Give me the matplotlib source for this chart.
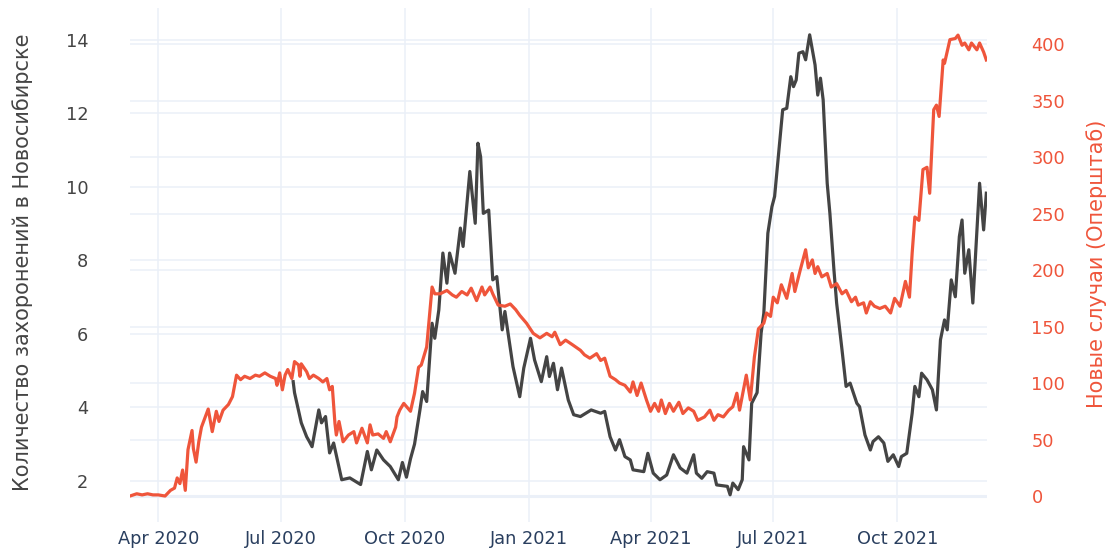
import numpy as np
import pandas as pd
import matplotlib
matplotlib.use("Agg")
import matplotlib.pyplot as plt
import matplotlib.dates as mdates
from matplotlib.transforms import blended_transform_factory

plt.rcParams['font.family'] = ['DejaVu Sans']

BASE = pd.Timestamp('2020-04-01')

# Burials (left axis): days since 2020-04-01 and values
burial_day = [
    100, 101, 106, 110, 112, 114, 119, 121, 124, 127,
    130, 136, 142, 150, 155, 158, 162, 167, 172, 178,
    181, 184, 187, 190, 194, 196, 199, 203, 205, 208,
    211, 214, 216, 220, 224, 226, 231, 235, 237, 239,
    241, 245, 248, 251, 255, 257, 263, 268, 271, 276,
    279, 284, 288, 290, 293, 296, 299, 304, 308, 313,
    321, 328, 331, 335, 339, 342, 346, 350, 352, 360,
    363, 367, 372, 377, 382, 387, 392, 397, 399, 403,
    407, 412, 414, 422, 424, 426, 430, 433, 434, 438,
    440, 444, 447, 449, 452, 455, 457, 463, 466, 469,
    471, 473, 475, 478, 480, 483, 487, 489, 491, 493,
    496, 498, 501, 503, 507, 510, 513, 518, 520, 524,
    528, 530, 534, 538, 541, 545, 549, 551, 555, 559,
    561, 564, 566, 570, 574, 577, 580, 583, 585, 588,
    591, 594, 596, 598, 601, 604, 609, 612, 614,
]
burial_value = [
    4.7, 4.4, 3.58, 3.2, 3.07, 2.93, 3.93, 3.58, 3.75, 2.76,
    3.03, 2.03, 2.08, 1.9, 2.8, 2.3, 2.84, 2.57, 2.39, 2.03,
    2.5, 2.1, 2.6, 3.0, 3.93, 4.43, 4.16, 6.29, 5.88, 6.65,
    8.2, 7.38, 8.2, 7.65, 8.88, 8.38, 10.42, 9.01, 11.19, 10.82,
    9.28, 9.37, 7.47, 7.56, 6.11, 6.61, 5.11, 4.29, 5.07, 5.88,
    5.29, 4.7, 5.38, 4.84, 5.2, 4.48, 5.07, 4.2, 3.8, 3.75,
    3.93, 3.84, 3.89, 3.2, 2.84, 3.12, 2.66, 2.57, 2.3, 2.25,
    2.75, 2.21, 2.03, 2.16, 2.71, 2.35, 2.21, 2.71, 2.21, 2.07,
    2.25, 2.21, 1.89, 1.85, 1.62, 1.94, 1.76, 2.03, 2.93, 2.57,
    4.11, 4.4, 6.02, 6.56, 8.74, 9.46, 9.74, 12.1, 12.14, 13.0,
    12.73, 12.91, 13.64, 13.68, 13.46, 14.14, 13.32, 12.5, 12.96, 12.37,
    10.1, 9.28, 7.74, 6.84, 5.56, 4.57, 4.66, 4.11, 4.02, 3.25,
    2.84, 3.07, 3.2, 3.03, 2.53, 2.71, 2.39, 2.66, 2.75, 3.84,
    4.57, 4.29, 4.93, 4.75, 4.48, 3.93, 5.84, 6.38, 6.11, 7.47,
    7.01, 8.65, 9.1, 7.65, 8.29, 6.84, 10.1, 8.83, 9.83,
]

# New cases (right axis): days since 2020-04-01 and values
cases_day = [
    -21, -16, -12, -8, -4, 0, 5, 9, 12, 14,
    16, 18, 20, 22, 25, 26, 28, 30, 32, 37,
    40, 43, 45, 48, 52, 55, 58, 61, 64, 68,
    72, 75, 79, 83, 87, 88, 90, 92, 94, 96,
    99, 101, 104, 105, 106, 110, 112, 115, 119, 122,
    125, 127, 129, 131, 132, 134, 137, 141, 145, 147,
    151, 155, 157, 159, 163, 167, 169, 172, 176, 177,
    179, 182, 187, 190, 193, 195, 199, 203, 205, 209,
    214, 218, 221, 225, 229, 232, 236, 240, 242, 246,
    248, 252, 257, 261, 265, 268, 273, 278, 283, 288,
    292, 294, 298, 302, 307, 313, 316, 320, 325, 328,
    331, 335, 339, 342, 346, 350, 352, 355, 358, 362,
    365, 368, 371, 373, 376, 379, 382, 386, 389, 393,
    397, 400, 405, 409, 412, 415, 419, 423, 426, 429,
    431, 436, 439, 442, 445, 449, 451, 454, 456, 459,
    462, 466, 470, 472, 476, 480, 482, 485, 487, 489,
    492, 496, 499, 503, 507, 510, 514, 517, 519, 523,
    525, 528, 531, 535, 539, 543, 546, 550, 554, 557,
    559, 561, 564, 567, 570, 572, 575, 577, 579, 582,
    583, 587, 591, 593, 596, 598, 601, 603, 607, 609,
    612, 614,
]
cases_value = [
    0, 2, 1, 2, 1, 1, 0, 5, 7, 16,
    11, 23, 5, 41, 58, 42, 30, 48, 61, 77,
    57, 75, 66, 76, 81, 88, 107, 103, 106, 104,
    107, 106, 109, 106, 104, 98, 109, 94, 107, 112,
    104, 119, 116, 106, 117, 110, 104, 107, 104, 101,
    104, 94, 97, 64, 54, 66, 48, 54, 57, 47,
    60, 47, 63, 54, 55, 51, 57, 48, 61, 70,
    76, 82, 75, 91, 114, 116, 132, 185, 179, 179,
    182, 178, 176, 181, 178, 184, 173, 185, 178, 185,
    179, 169, 168, 170, 165, 160, 153, 144, 140, 144,
    141, 145, 134, 138, 134, 129, 125, 122, 126, 120,
    122, 106, 103, 100, 98, 92, 101, 89, 100, 85,
    75, 82, 75, 85, 73, 82, 75, 83, 73, 78,
    75, 67, 70, 76, 67, 72, 70, 76, 79, 91,
    76, 107, 85, 123, 148, 153, 162, 159, 176, 171,
    187, 175, 197, 181, 200, 218, 202, 209, 197, 203,
    194, 197, 185, 188, 179, 182, 172, 176, 169, 171,
    162, 172, 168, 166, 168, 162, 175, 168, 190, 176,
    215, 247, 244, 289, 291, 268, 342, 346, 336, 386,
    383, 404, 405, 408, 399, 401, 395, 401, 395, 401,
    393, 386,
]

left_title = "Количество захоронений в Новосибирске"
right_title = "Новые случаи (Оперштаб)"
left_ticks = [2, 4, 6, 8, 10, 12, 14]
right_ticks = [0, 50, 100, 150, 200, 250, 300, 350, 400]

BLACK = '#444444'
RED = '#EF553B'
GRID = '#EBF0F8'
XTICK = '#2a3f5f'

burial_dates = BASE + pd.to_timedelta(burial_day, unit='D')
cases_dates = BASE + pd.to_timedelta(cases_day, unit='D')

fig = plt.figure(figsize=(11.12, 5.5), dpi=100)
fig.patch.set_facecolor('white')
ax = fig.add_axes([130 / 1112, 1 - 522 / 550, 857 / 1112, 514 / 550])
ax2 = ax.twinx()

ax.set_xlim(BASE + pd.Timedelta(days=-21), BASE + pd.Timedelta(days=614.5))
ax.set_ylim(0.88, 14.87)
ax2.set_ylim(-23, 432)
ax.set_yticks(left_ticks)
ax2.set_yticks(right_ticks)

ax.xaxis.set_major_locator(mdates.MonthLocator(bymonth=[1, 4, 7, 10]))
ax.xaxis.set_major_formatter(mdates.DateFormatter('%b %Y'))

ax.grid(True, color=GRID, lw=1.1, zorder=0)
ax.set_axisbelow(True)
ax2.grid(False)

# right-axis gridlines drawn beneath everything, on the primary axes
tr = blended_transform_factory(ax.transAxes, ax2.transData)
for v in ax2.get_yticks():
    ax.plot([0, 1], [v, v], transform=tr, color=GRID,
            lw=2.2 if v == 0 else 1.1, zorder=0.5, solid_capstyle='butt')

ax.plot(burial_dates, burial_value, color=BLACK, lw=2.3, zorder=3,
        solid_joinstyle='round')
ax2.plot(cases_dates, cases_value, color=RED, lw=2.3, zorder=3,
         solid_joinstyle='round')

for a in (ax, ax2):
    for s in a.spines.values():
        s.set_visible(False)

ax.tick_params(axis='x', length=0, pad=6, labelsize=12.8, labelcolor=XTICK)
ax.tick_params(axis='y', length=0, pad=30, labelsize=12.8, labelcolor=BLACK)
ax2.tick_params(axis='y', length=0, pad=32, labelsize=12.8, labelcolor=RED)

ax.set_ylabel(left_title, fontsize=15, color=BLACK, va='center', ha='center')
ax.yaxis.set_label_coords(-0.1249, 0.506)
ax2.set_ylabel(right_title, fontsize=15, color=RED, va='center', ha='center',
               rotation=90)
ax2.yaxis.set_label_coords(1.1284, 0.502)

fig.savefig('out.png', dpi=100, facecolor='white')
